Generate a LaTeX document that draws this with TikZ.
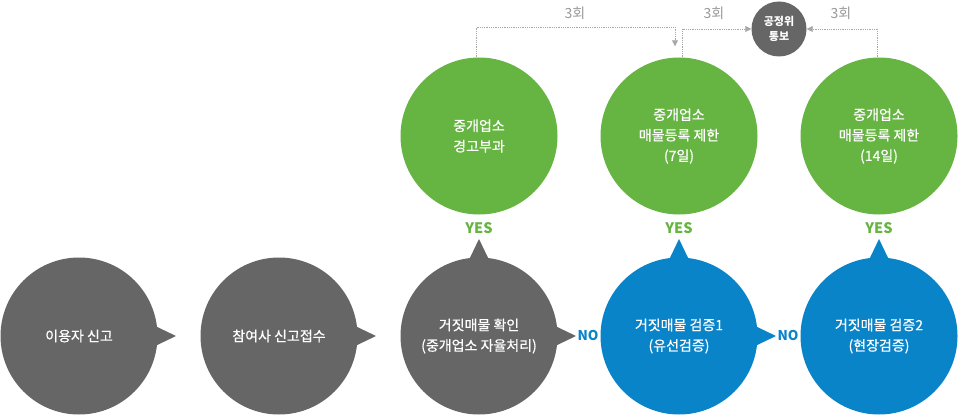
\documentclass[tikz,border=0pt]{standalone}
\usepackage{fontspec}
\setmainfont{Noto Sans CJK KR}
\newfontfamily\circfont[FakeBold=0.6]{Noto Sans CJK KR}
\usetikzlibrary{calc,arrows.meta}
\definecolor{cgray}{HTML}{666666}
\definecolor{cgreen}{HTML}{66B441}
\definecolor{cblue}{HTML}{0A84C8}
\definecolor{cline}{HTML}{A8A8A8}
\definecolor{clabel}{HTML}{999999}
\tikzset{
  bigcirc/.style={circle, minimum size=157pt, inner sep=0pt, text=white, align=center,
    font=\circfont\fontsize{14}{20.5}\selectfont},
  smallcirc/.style={circle, fill=cgray, minimum size=55pt, inner sep=0pt, text=white, align=center,
    font=\fontsize{11}{15}\selectfont\bfseries},
  yeslabel/.style={text=cgreen, font=\fontsize{14.5}{14.5}\selectfont\bfseries, inner sep=0pt},
  nolabel/.style={text=cblue, font=\fontsize{13.5}{13.5}\selectfont\bfseries, inner sep=0pt},
  cntlabel/.style={text=clabel, font=\fontsize{14}{14}\selectfont, inner sep=0pt},
  dotline/.style={draw=cline, densely dotted, line width=0.8pt,
    -{Triangle[width=6pt,length=6pt]}},
}
\begin{document}
\begin{tikzpicture}[x=1pt,y=-1pt]
\useasboundingbox (0,0) rectangle (960,417);
% bottom row
\node[bigcirc, fill=cgray] (b1) at (79,336) {이용자 신고};
\node[bigcirc, fill=cgray] (b2) at (279,336) {참여사 신고접수};
\node[bigcirc, fill=cgray] (b3) at (479,336) {거짓매물 확인\\(중개업소 자율처리)};
\node[bigcirc, fill=cblue] (b4) at (679,336) {거짓매물 검증1\\(유선검증)};
\node[bigcirc, fill=cblue] (b5) at (879,336) {거짓매물 검증2\\(현장검증)};
% top row
\node[bigcirc, fill=cgreen] (g1) at (479,136) {중개업소\\경고부과};
\node[bigcirc, fill=cgreen] (g2) at (679,136) {중개업소\\매물등록 제한\\(7일)};
\node[bigcirc, fill=cgreen] (g3) at (879,136) {중개업소\\매물등록 제한\\(14일)};
\node[smallcirc] (ko) at (779,29) {공정위\\통보};
% right pointers
\foreach \n/\c in {b1/cgray,b2/cgray,b3/cgray,b4/cblue}{
  \fill[\c] ($(\n.center)+(72,-12)$) -- ($(\n.center)+(97,0)$) -- ($(\n.center)+(72,12)$) -- cycle;
}
% up pointers
\foreach \n/\c in {b3/cgray,b4/cblue,b5/cblue}{
  \fill[\c] ($(\n.center)+(-12,-72)$) -- ($(\n.center)+(0,-97)$) -- ($(\n.center)+(12,-72)$) -- cycle;
}
% YES / NO labels
\node[yeslabel] (y1) at (479,228) {YES};
\node[yeslabel] (y2) at (679,228) {YES};
\node[yeslabel] (y3) at (879,228) {YES};
\node[nolabel] (n1) at (588,335) {NO};
\node[nolabel] (n2) at (788,335) {NO};
% dotted connectors
\coordinate (a1) at ($(g2.north)+(-4,-11)$);
\draw[dotline] ($(g1.north)+(-3,0)$) -- ++(0,-30) -| (a1);
\draw[dotline] ($(g2.north)+(3,0)$) |- (ko.west);
\draw[dotline] ($(g3.north)+(-2,0)$) |- (ko.east);
% count labels
\node[cntlabel] (t1) at (575,13) {3회};
\node[cntlabel] (t2) at (714,13) {3회};
\node[cntlabel] (t3) at (841,13) {3회};
\end{tikzpicture}
\end{document}
